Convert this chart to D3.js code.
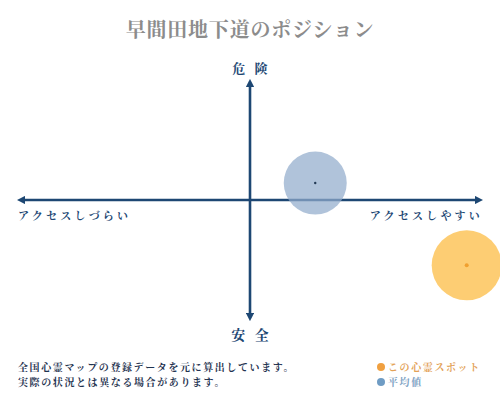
<!DOCTYPE html>
<html>
<head>
<meta charset="utf-8">
<script src="https://cdn.jsdelivr.net/npm/d3@7"></script>
<style>
  body { margin: 0; background: #fff; }
  svg { display: block; }
  text { font-family: "Noto Serif CJK JP", "Noto Sans CJK JP", serif; white-space: pre; }
</style>
</head>
<body>
<svg width="500" height="400"></svg>
<script>
// データ
var title = "早間田地下道のポジション";
var axisLabels = ["危 険", "安 全", "アクセスしづらい", "アクセスしやすい"];
var pointNames = ["この心霊スポット", "平均値"];
var accessValues = [93, 28];   // x: アクセス
var dangerValues = [-54, 14];  // y: 危険度
var noteLines = ["全国心霊マップの登録データを元に算出しています。", "実際の状況とは異なる場合があります。"];

var navy = "#1d4773";
var fills = ["rgba(253,196,90,0.85)", "rgba(145,172,204,0.72)"];
var dots = ["#f0a030", "#233a55"];
var legendDots = ["#f0a040", "#6f9cc4"];
var legendText = ["#e3a258", "#7fa3c4"];

var svg = d3.select("svg");

var x = d3.scaleLinear().domain([-100, 100]).range([17, 483]);
var y = d3.scaleLinear().domain([-100, 100]).range([321, 79]);

// タイトル
svg.append("text")
  .attr("x", 250).attr("y", 37)
  .attr("text-anchor", "middle")
  .attr("font-size", 20).attr("font-weight", "bold")
  .attr("fill", "#8c8c8c")
  .attr("letter-spacing", 0.8)
  .text(title);

// 矢印
var defs = svg.append("defs");
defs.append("marker")
  .attr("id", "arr")
  .attr("viewBox", "0 0 10 10")
  .attr("refX", 5).attr("refY", 5)
  .attr("markerWidth", 3.2).attr("markerHeight", 3.2)
  .attr("orient", "auto-start-reverse")
  .append("path")
  .attr("d", "M0,0 L10,5 L0,10 z")
  .attr("fill", navy);

svg.append("line")
  .attr("x1", x(-100) + 4).attr("y1", y(0))
  .attr("x2", x(100) - 4).attr("y2", y(0))
  .attr("stroke", navy).attr("stroke-width", 2.6)
  .attr("marker-start", "url(#arr)").attr("marker-end", "url(#arr)");

svg.append("line")
  .attr("x1", x(0)).attr("y1", y(100) + 4)
  .attr("x2", x(0)).attr("y2", y(-100) - 4)
  .attr("stroke", navy).attr("stroke-width", 2.6)
  .attr("marker-start", "url(#arr)").attr("marker-end", "url(#arr)");

// 軸ラベル
svg.append("text")
  .attr("x", x(0) + 1.5).attr("y", 73)
  .attr("text-anchor", "middle")
  .attr("font-size", 13).attr("font-weight", "bold")
  .attr("letter-spacing", 3)
  .attr("fill", navy)
  .text(axisLabels[0]);

svg.append("text")
  .attr("x", x(0) + 1.5).attr("y", 340)
  .attr("text-anchor", "middle")
  .attr("font-size", 14).attr("font-weight", "bold")
  .attr("letter-spacing", 3)
  .attr("fill", navy)
  .text(axisLabels[1]);

svg.append("text")
  .attr("x", 18).attr("y", 220)
  .attr("font-size", 11).attr("font-weight", "bold")
  .attr("letter-spacing", 3.2)
  .attr("fill", navy)
  .text(axisLabels[2]);

svg.append("text")
  .attr("x", 483).attr("y", 220)
  .attr("text-anchor", "end")
  .attr("font-size", 11).attr("font-weight", "bold")
  .attr("letter-spacing", 3.2)
  .attr("fill", navy)
  .text(axisLabels[3]);

// 円 (平均値を先に描く)
var pts = d3.range(pointNames.length).map(function(i){
  return {name: pointNames[i], ax: accessValues[i], dg: dangerValues[i], i: i};
}).reverse();

svg.selectAll(".bubble").data(pts).enter()
  .append("circle")
  .attr("class", "bubble")
  .attr("cx", d => x(d.ax))
  .attr("cy", d => y(d.dg))
  .attr("r", d => d.i == 0 ? 35 : 31.5)
  .attr("fill", d => fills[d.i]);

svg.selectAll(".center").data(pts).enter()
  .append("circle")
  .attr("class", "center")
  .attr("cx", d => x(d.ax))
  .attr("cy", d => y(d.dg))
  .attr("r", d => d.i == 0 ? 2 : 1.2)
  .attr("fill", d => dots[d.i]);

// 注記
svg.selectAll(".note").data(noteLines).enter()
  .append("text")
  .attr("class", "note")
  .attr("x", 18)
  .attr("y", (d, i) => 371 + i * 15)
  .attr("font-size", 10).attr("font-weight", "bold")
  .attr("letter-spacing", 1.6)
  .attr("fill", "#1f3350")
  .text(d => d);

// 凡例
var lg = svg.selectAll(".lg").data(pointNames).enter()
  .append("g")
  .attr("transform", (d, i) => `translate(381,${367 + i * 15})`);
lg.append("circle")
  .attr("r", 4)
  .attr("fill", (d, i) => legendDots[i]);
lg.append("text")
  .attr("x", 7).attr("y", 4)
  .attr("font-size", 10).attr("font-weight", "bold")
  .attr("letter-spacing", 1.6)
  .attr("fill", (d, i) => legendText[i])
  .text(d => d);
</script>
</body>
</html>
